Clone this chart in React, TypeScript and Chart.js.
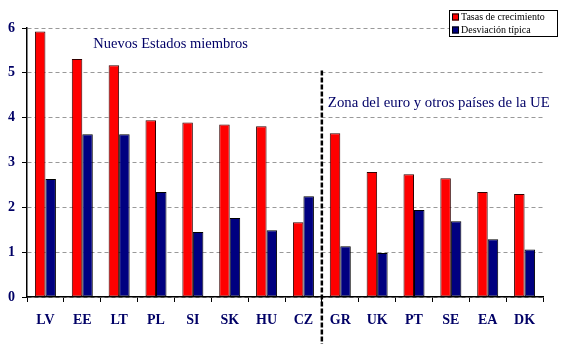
import React, { useEffect, useRef } from "react";
import { Chart, registerables } from "chart.js";

Chart.register(...registerables);

const categories = ["LV", "EE", "LT", "PL", "SI", "SK", "HU", "CZ", "GR", "UK", "PT", "SE", "EA", "DK"];
const growthRates = [5.92, 5.31, 5.17, 3.94, 3.89, 3.85, 3.81, 1.67, 3.65, 2.79, 2.74, 2.65, 2.34, 2.3];
const stdDeviation = [2.63, 3.63, 3.63, 2.34, 1.45, 1.76, 1.49, 2.25, 1.13, 0.98, 1.94, 1.69, 1.29, 1.06];
const yTicks = [0, 1, 2, 3, 4, 5, 6];
const seriesLabels = ["Tasas de crecimiento", "Desviación típica"];
const groupLabels = ["Nuevos Estados miembros", "Zona del euro y otros países de la UE"];

const NAVY = "#000066";
const SERIF = "'Liberation Serif', 'Times New Roman', serif";

const overlayPlugin = {
  id: "overlay",
  afterDatasetsDraw(chart: any) {
    const { ctx, scales, chartArea } = chart;
    const x = scales.x;
    const y = scales.y;
    ctx.save();
    // divider between groups
    const xd = (x.getPixelForValue(7) + x.getPixelForValue(8)) / 2;
    ctx.strokeStyle = "#000";
    ctx.lineWidth = 2.5;
    ctx.setLineDash([5, 2]);
    ctx.beginPath();
    ctx.moveTo(xd, y.getPixelForValue(5.05));
    ctx.lineTo(xd, chartArea.bottom + 47);
    ctx.stroke();
    ctx.setLineDash([]);

    // group labels
    ctx.fillStyle = NAVY;
    ctx.textBaseline = "alphabetic";
    ctx.textAlign = "left";
    ctx.font = `14.5px ${SERIF}`;
    ctx.fillText(groupLabels[0], x.getPixelForValue(1) + 11, y.getPixelForValue(5.55));
    ctx.font = `14.8px ${SERIF}`;
    ctx.fillText(groupLabels[1], xd + 6, y.getPixelForValue(4.24));

    // legend
    const lx = 449, ly = 10, lw = 108, lh = 26;
    ctx.fillStyle = "#fff";
    ctx.fillRect(lx, ly, lw, lh);
    ctx.strokeStyle = "#000";
    ctx.lineWidth = 1;
    ctx.strokeRect(lx + 0.5, ly + 0.5, lw, lh);
    ctx.font = `10px ${SERIF}`;
    ctx.textBaseline = "middle";
    chart.data.datasets.forEach((ds: any, i: number) => {
      const cy = ly + 7 + i * 13;
      ctx.fillStyle = ds.backgroundColor;
      ctx.fillRect(lx + 3, cy - 3.5, 7, 7);
      ctx.strokeStyle = "#000";
      ctx.strokeRect(lx + 3.5, cy - 3, 6, 6);
      ctx.fillStyle = "#000";
      ctx.fillText(ds.label, lx + 12, cy);
    });
    ctx.restore();
  },
};

export default function App() {
  const canvasRef = useRef<HTMLCanvasElement>(null);

  useEffect(() => {
    document.body.style.margin = "0";
    const canvas = canvasRef.current;
    if (!canvas) return;
    const chart = new Chart(canvas, {
      type: "bar",
      data: {
        labels: categories,
        datasets: [
          {
            label: seriesLabels[0],
            data: growthRates,
            backgroundColor: "#FF0000",
            borderColor: "#330000",
            borderWidth: 1,
            borderSkipped: false,
            barPercentage: 1,
            categoryPercentage: 0.57,
          },
          {
            label: seriesLabels[1],
            data: stdDeviation,
            backgroundColor: "#000080",
            borderColor: "#000000",
            borderWidth: 1,
            borderSkipped: false,
            barPercentage: 1,
            categoryPercentage: 0.57,
          },
        ],
      },
      options: {
        animation: false,
        responsive: false,
        devicePixelRatio: 1,
        layout: { padding: { top: 28, right: 19, left: 0, bottom: 0 } },
        plugins: {
          legend: { display: false },
          tooltip: { enabled: false },
        },
        scales: {
          x: {
            grid: {
              offset: true,
              drawOnChartArea: false,
              drawTicks: true,
              tickLength: 5,
              tickColor: "#000",
            },
            border: { color: "#000", width: 1.5 },
            ticks: {
              color: NAVY,
              font: { family: SERIF, size: 14, weight: "bold" },
              padding: 10,
              maxRotation: 0,
              autoSkip: false,
            },
            afterFit: (scale: any) => {
              scale.height = 61;
            },
          },
          y: {
            min: 0,
            max: 6,
            afterBuildTicks: (scale: any) => {
              scale.ticks = yTicks.map((v) => ({ value: v }));
            },
            grid: {
              color: "#999999",
              tickColor: "#000",
              tickLength: 5,
              lineWidth: 1,
            },
            border: { color: "#000", width: 1.5, dash: [4, 3] },
            ticks: {
              color: NAVY,
              font: { family: SERIF, size: 14, weight: "bold" },
              padding: 7,
            },
            afterFit: (scale: any) => {
              scale.width = 27;
            },
          },
        },
      },
      plugins: [overlayPlugin],
    });
    return () => chart.destroy();
  }, []);

  return (
    <div style={{ position: "absolute", left: 0, top: 0, width: 562, height: 358, background: "#fff" }}>
      <canvas ref={canvasRef} width={562} height={358} style={{ width: 562, height: 358 }} />
    </div>
  );
}
